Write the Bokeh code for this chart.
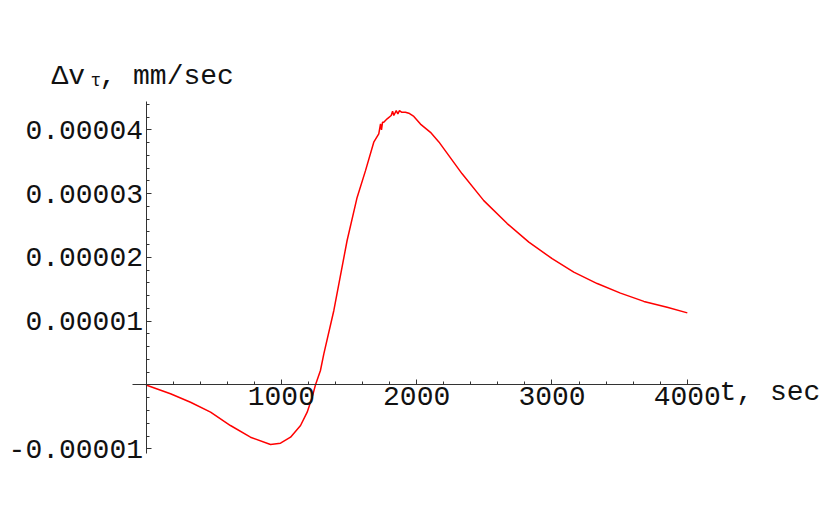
from bokeh.plotting import figure
from bokeh.models import LinearAxis, FixedTicker, PrintfTickFormatter, Label, Range1d
from bokeh.embed import file_html
from bokeh.resources import INLINE

# time, sec
t = [0, 181, 329, 477, 624, 772, 920, 994, 1068, 1142, 1191, 1228, 1252, 1289,
     1314, 1388, 1486, 1560, 1622, 1683, 1720, 1733, 1740, 1748, 1757, 1782,
     1812, 1822, 1831, 1849, 1861, 1873, 1888, 1917, 1942, 1979, 2028, 2102,
     2164, 2336, 2496, 2669, 2829, 3001, 3161, 3334, 3506, 3679, 3851, 4000]
# delta v_tau, units of 1e-5 mm/sec
dv_e5 = [0.0, -0.138, -0.27, -0.426, -0.635, -0.818, -0.933, -0.912, -0.818,
         -0.635, -0.426, -0.19, 0.0, 0.227,
         0.489, 1.168, 2.265, 2.94, 3.36, 3.806, 3.937, 4.094, 4.0, 4.119, 4.119,
         4.172, 4.224, 4.29, 4.224, 4.30, 4.25, 4.30, 4.276, 4.276, 4.26, 4.21,
         4.09, 3.96, 3.81, 3.31, 2.89, 2.53, 2.24, 1.98, 1.77, 1.59, 1.44, 1.31,
         1.22, 1.13]
dv = [v * 1e-5 for v in dv_e5]

x_major = [1000, 2000, 3000, 4000]
x_minor = [200 * i for i in range(1, 21)]
y_major = [-1e-5, 1e-5, 2e-5, 3e-5, 4e-5]
y_minor = [2e-6 * i for i in range(-5, 23)]

FONT = "Liberation Mono"
FS = "28px"

p = figure(width=830, height=513,
           x_range=Range1d(-1075.2, 5058.0), y_range=Range1d(-2.0142e-5, 6.0266e-5),
           x_axis_type=None, y_axis_type=None,
           output_backend="svg", toolbar_location=None, min_border=0)
p.outline_line_color = None
p.background_fill_color = "white"
p.border_fill_color = "white"

xaxis = LinearAxis(fixed_location=0,
                   ticker=FixedTicker(ticks=x_major, minor_ticks=x_minor),
                   bounds=(-100, 4100))
yaxis = LinearAxis(fixed_location=0,
                   ticker=FixedTicker(ticks=y_major, minor_ticks=y_minor),
                   formatter=PrintfTickFormatter(format="%.5f"),
                   bounds=(-1.074e-5, 4.448e-5))
for ax in (xaxis, yaxis):
    ax.axis_line_color = "#333333"
    ax.axis_line_width = 1
    ax.major_tick_line_color = "#333333"
    ax.minor_tick_line_color = "#333333"
    ax.major_tick_in = 5
    ax.major_tick_out = 0
    ax.minor_tick_in = 3
    ax.minor_tick_out = 0
    ax.major_label_text_font = FONT
    ax.major_label_text_font_size = FS
    ax.major_label_text_color = "#111111"
xaxis.major_label_standoff = 2
yaxis.major_label_standoff = 3
p.add_layout(xaxis, "below")
p.add_layout(yaxis, "left")

p.line(t, dv, line_color="red", line_width=1.5)

lab_kw = dict(text_font=FONT, text_color="#111111", text_baseline="alphabetic")
p.add_layout(Label(x=-698, y=4.835e-5, text="Δv", text_font_size=FS, **lab_kw))
p.add_layout(Label(x=-411, y=4.77e-5, text="τ", text_font_size="18px", **lab_kw))
p.add_layout(Label(x=-344, y=4.835e-5, text=", mm/sec", text_font_size=FS, **lab_kw))
p.add_layout(Label(x=4238, y=-0.1176e-5, text="t, sec", text_font_size=FS, **lab_kw))

open("out.html", "w").write(file_html(p, INLINE))
